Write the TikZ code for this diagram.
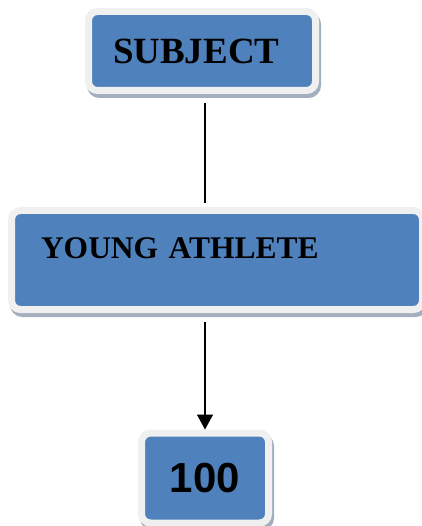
\documentclass[tikz,border=0pt]{standalone}
\usepackage{fontspec}
\setmainfont{Liberation Serif}
\newfontfamily\numfont{Liberation Sans}
\usepackage{xcolor}
\usetikzlibrary{arrows.meta, shadows, calc}
\definecolor{boxblue}{HTML}{4F81BD}
\definecolor{framegray}{HTML}{F0F0F0}
\definecolor{shadowgray}{HTML}{A3AEBF}

\begin{document}
\begin{tikzpicture}[x=1pt, y=-1pt,
    blockbox/.style={fill=boxblue, draw=framegray, line width=7pt, rounded corners=9pt, inner sep=0pt,
      general shadow={fill=shadowgray, draw=shadowgray, line width=7pt, shadow xshift=2pt, shadow yshift=-4pt}},
    link/.style={line width=1.6pt, black}]
  \useasboundingbox (0,0) rectangle (421,526);

  \node[blockbox, minimum width=227pt, minimum height=79pt, text width=200pt, align=left,
    font=\fontsize{37}{40}\selectfont\bfseries]
    (subject) at (202,51) {\hspace*{11pt}SUBJECT};
  \node[blockbox, minimum width=411pt, minimum height=99pt, text width=352pt, align=left,
    text height=21pt, text depth=25pt, font=\fontsize{31.5}{36}\selectfont\bfseries]
    (athlete) at (217,260) {YOUNG ATHLETE};
  \node[blockbox, minimum width=127pt, minimum height=90pt, font=\fontsize{42}{46}\selectfont\numfont\bfseries]
    (count) at (205,478) {100};

  % connectors
  \draw[link, shorten <=9pt, shorten >=4pt] (subject.south -| count.north) -- (athlete.north -| count.north);
  \draw[link, -{Triangle[length=15pt, width=16pt]}, shorten <=9pt] (athlete.south -| count.north) -- (count.north);
\end{tikzpicture}
\end{document}
